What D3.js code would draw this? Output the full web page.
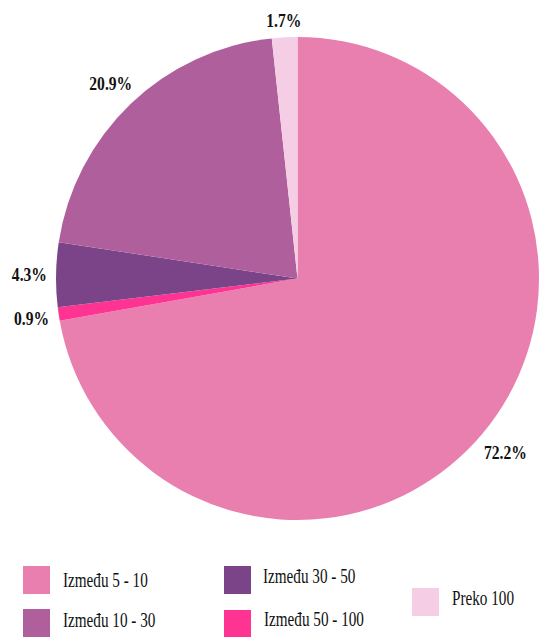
<!DOCTYPE html>
<html><head><meta charset="utf-8">
<script src="https://cdn.jsdelivr.net/npm/d3@7"></script>
<style>html,body{margin:0;padding:0;background:#fff;}</style>
</head><body>
<svg id="c" width="550" height="637"></svg>
<script>
const categories = ["Između 5 - 10", "Između 10 - 30", "Između 30 - 50", "Između 50 - 100", "Preko 100"];
const values = [72.2, 20.9, 4.3, 0.9, 1.7];
const labels = ["72.2%", "20.9%", "4.3%", "0.9%", "1.7%"];
const colors = ["#E97FAF", "#B05F9D", "#7B4489", "#FF3391", "#F5CDE5"];
// drawing order clockwise from 12 o'clock
const pieOrder = [0, 3, 2, 1, 4];

const svg = d3.select("#c");
const cx = 297.5, cy = 278.5, R = 241.5;
const g = svg.append("g").attr("transform", `translate(${cx},${cy})`);

const data = pieOrder.map(i => ({i, v: values[i]}));
const pie = d3.pie().value(d => d.v).sort(null);
const arcs = pie(data);
const arc = d3.arc().innerRadius(0).outerRadius(R);

g.selectAll("path").data(arcs).enter().append("path")
  .attr("d", arc).attr("fill", d => colors[d.data.i]);

const sx = 0.8, fs = 19.5, rl = R + 9;
arcs.forEach(a => {
  const m = (a.startAngle + a.endAngle) / 2;
  const ux = Math.sin(m), uy = -Math.cos(m);
  const t = g.append("text").text(labels[a.data.i])
    .attr("font-family", "Liberation Serif, Times New Roman, serif")
    .attr("font-weight", "bold").attr("font-size", fs)
    .attr("text-anchor", "middle").attr("fill", "#111");
  const w = t.node().getComputedTextLength() * sx;
  const h = fs * 0.68;
  const sup = Math.abs(ux) * w / 2 + Math.abs(uy) * h / 2;
  const px = ux * (rl + sup), py = uy * (rl + sup);
  t.attr("transform", `translate(${px},${py + h / 2}) scale(${sx},1)`);
});

// legend
const legendPos = [
  {sx: 23, sy: 566, tx: 63, ty: 587},
  {sx: 23, sy: 609, tx: 63, ty: 627},
  {sx: 224, sy: 566, tx: 263, ty: 583},
  {sx: 224, sy: 610, tx: 264, ty: 626},
  {sx: 412, sy: 588, tx: 452, ty: 605}
];
const lg = svg.append("g");
categories.forEach((c, i) => {
  const p = legendPos[i];
  lg.append("rect").attr("x", p.sx).attr("y", p.sy).attr("width", 27).attr("height", 28)
    .attr("fill", colors[i]);
  lg.append("text").text(c)
    .attr("transform", `translate(${p.tx},${p.ty}) scale(0.76,1)`)
    .attr("font-family", "Liberation Serif, Times New Roman, serif")
    .attr("font-size", 20).attr("fill", "#111");
});
</script>
</body></html>
